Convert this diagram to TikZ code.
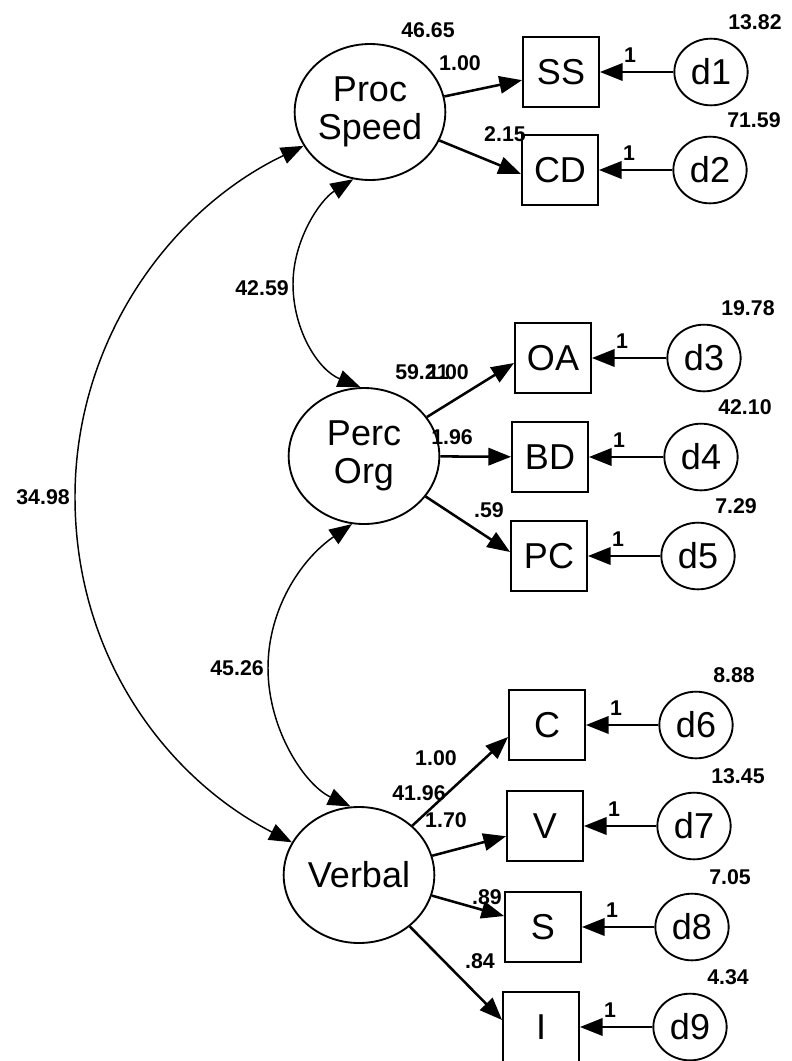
\documentclass[tikz,border=0pt]{standalone}
\usepackage{fontspec}
\setmainfont{Liberation Sans}
\usetikzlibrary{arrows.meta,shapes.geometric}
\begin{document}
\begin{tikzpicture}[x=0.75pt,y=0.75pt,
  lat/.style={ellipse, draw, line width=1.4pt, minimum width=113pt, minimum height=102pt, inner sep=0pt, font=\fontsize{27}{29}\selectfont, align=center},
  obs/.style={rectangle, draw, line width=1.4pt, minimum width=57pt, minimum height=52.5pt, inner sep=0pt, font=\fontsize{27}{29}\selectfont},
  err/.style={ellipse, draw, line width=1.4pt, minimum width=55pt, minimum height=50pt, inner sep=0pt, font=\fontsize{27}{29}\selectfont},
  arr/.style={line width=1.9pt, -{Triangle[length=17pt,width=13pt]}},
  cov/.style={line width=1.1pt, {Triangle[length=17pt,width=13pt]}-{Triangle[length=17pt,width=13pt]}},
  lab/.style={font=\bfseries\fontsize{16}{18}\selectfont, inner sep=0pt},
]
\useasboundingbox (0,0) rectangle (792,-1061);
\fill[white] (0,0) rectangle (792,-1061);

% latent variables
\node[lat] (PS) at (370,-112) {Proc\\Speed};
\node[lat] (PO) at (364,-456) {Perc\\Org};
\node[lat] (V)  at (359,-875) {Verbal};

% observed variables
\node[obs] (SS) at (561,-72)   {SS};
\node[obs] (CD) at (560,-170)  {CD};
\node[obs] (OA) at (553,-358)  {OA};
\node[obs] (BD) at (550,-457)  {BD};
\node[obs] (PC) at (549,-556)  {PC};
\node[obs] (C)  at (547,-725)  {C};
\node[obs] (Vb) at (545,-826)  {V};
\node[obs] (S)  at (543,-927)  {S};
\node[obs] (I)  at (541,-1027) {I};

% error terms
\node[err] (d1) at (711,-72)   {d1};
\node[err] (d2) at (710,-170)  {d2};
\node[err] (d3) at (704,-358)  {d3};
\node[err] (d4) at (701,-457)  {d4};
\node[err] (d5) at (698,-556)  {d5};
\node[err] (d6) at (696,-725)  {d6};
\node[err] (d7) at (694,-826)  {d7};
\node[err] (d8) at (692,-927)  {d8};
\node[err] (d9) at (690,-1027) {d9};

% error arrows, "1" labels and variances
\foreach \d/\b/\v in {d1/SS/13.82, d2/CD/71.59, d3/OA/19.78, d4/BD/42.10, d5/PC/7.29,
                      d6/C/8.88, d7/Vb/13.45, d8/S/7.05, d9/I/4.34}{
  \draw[arr] (\d) -- (\b);
  \node[lab] (one\d) at ([shift={(30,17)}]\b.east) {1};
  \node[lab, anchor=west] (var\d) at ([shift={(17,50)}]\d.center) {\v};
}

% factor loadings
\draw[arr] (PS) -- (SS);
\draw[arr] (PS) -- ([shift={(0,-4)}]CD.west);
\draw[arr] (PO) -- ([shift={(0,-5)}]OA.west);
\draw[arr] (PO) -- (BD);
\draw[arr] (PO) -- ([shift={(0,4)}]PC.west);
\draw[arr] (V) -- ([shift={(0,-12)}]C.west);
\draw[arr] (V) -- (Vb);
\draw[arr] (V) -- (S);
\draw[arr] (V) -- ([shift={(0,7)}]I.west);

% covariances
\draw[cov] (PS.256) .. controls (320,-200) and (293,-240) .. (293,-284)
                    .. controls (293,-330) and (318,-370) .. (PO.93);
\draw[cov] (PO.260) .. controls (300,-560) and (268,-610) .. (268,-668)
                    .. controls (268,-730) and (305,-785) .. (V.97);
\draw[cov] (PS.207) .. controls (170,-210) and (75,-340) .. (75,-497)
                    .. controls (75,-660) and (170,-780) .. (V.154);

% labels
\node[lab] (l1) at (428,-30) {46.65};
\node[lab] (l2) at (460,-63) {1.00};
\node[lab] (l3) at (505,-134) {2.15};
\node[lab, anchor=west] (l4) at (395,-372) {59.21};
\node[lab, anchor=west] (l5) at (427,-372) {1.00};
\node[lab, anchor=west] (l6) at (431,-437) {1.96};
\node[lab] (l7) at (489,-510) {.59};
\node[lab] (l8) at (436,-758) {1.00};
\node[lab] (l9) at (419,-793) {41.96};
\node[lab] (l10) at (446,-820) {1.70};
\node[lab] (l11) at (487,-897) {.89};
\node[lab] (l12) at (480,-961) {.84};
\node[lab, anchor=east] (l13) at (289,-288) {42.59};
\node[lab, anchor=east] (l14) at (70,-497) {34.98};
\node[lab, anchor=east] (l15) at (264,-668) {45.26};
\end{tikzpicture}
\end{document}
